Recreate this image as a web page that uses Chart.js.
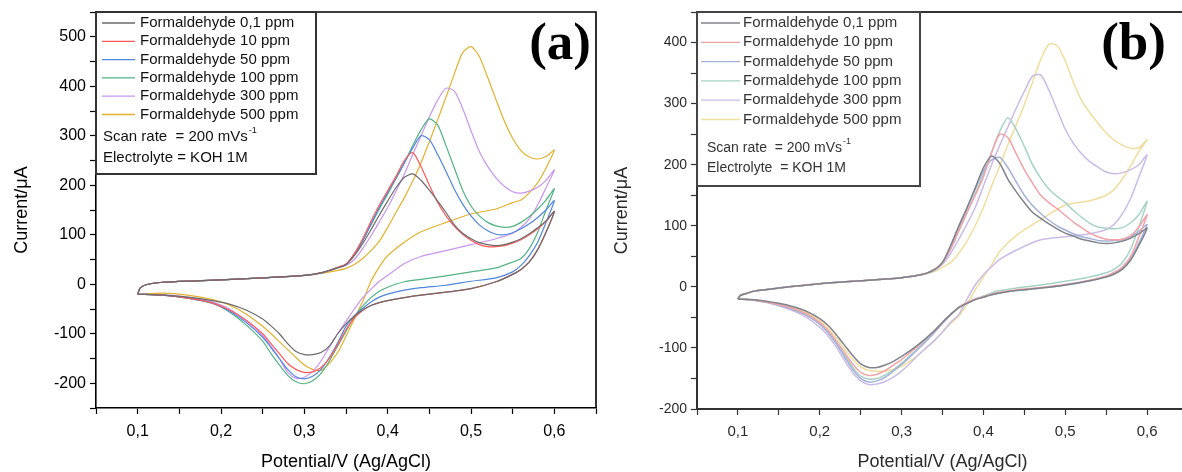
<!DOCTYPE html>
<html>
<head>
<meta charset="utf-8">
<script src="https://cdn.jsdelivr.net/npm/chart.js@4.4.1/dist/chart.umd.min.js"></script>
<style>
  html, body { margin: 0; padding: 0; background: #fff; overflow: hidden; }
  body { width: 1182px; height: 472px; position: relative; }
  .panel { position: absolute; top: 0; }
  #panelA { left: 0; }
  #panelB { left: 600px; }
</style>
</head>
<body>
<div class="panel" id="panelA"><canvas id="chartA" width="600" height="472"></canvas></div>
<div class="panel" id="panelB"><canvas id="chartB" width="600" height="472"></canvas></div>
<script>
const seriesLabels = ['Formaldehyde 0,1 ppm', 'Formaldehyde 10 ppm', 'Formaldehyde 50 ppm',
  'Formaldehyde 100 ppm', 'Formaldehyde 300 ppm', 'Formaldehyde 500 ppm']

const xTickValues = [0.05, 0.1, 0.15, 0.2, 0.25, 0.3, 0.35, 0.4, 0.45, 0.5, 0.55, 0.6, 0.65]
const yTickValuesA = [-250, -200, -150, -100, -50, 0, 50, 100, 150, 200, 250, 300, 350, 400, 450, 500, 550]
const yTickValuesB = [-200, -150, -100, -50, 0, 50, 100, 150, 200, 250, 300, 350, 400, 450]

// ---- panel (a) : anodic (forward) scan ----
const potentialFwdA = [0.1, 0.103, 0.11, 0.13, 0.17, 0.2, 0.25, 0.3, 0.32, 0.34, 0.35,
  0.36, 0.37, 0.38, 0.39, 0.40, 0.41, 0.42, 0.43, 0.44, 0.45, 0.46, 0.47, 0.48, 0.49,
  0.50, 0.51, 0.52, 0.53, 0.54, 0.55, 0.56, 0.57, 0.58, 0.59, 0.60]
const fwdA_01 = [-20, -8, -1, 4, 7, 9, 13, 18, 23, 33, 40,
  58, 82, 110, 140, 168, 195, 216, 223, 210, 190, 168, 145, 120, 103,
  92, 84, 80, 78, 80, 85, 92, 102, 114, 128, 147]
const fwdA_10 = [-20, -8, -1, 4, 7, 9, 13, 18, 23, 34, 41,
  62, 92, 127, 160, 189, 218, 250, 266, 238, 200, 165, 138, 117, 101,
  89, 80, 76, 76, 78, 83, 90, 100, 112, 127, 147]
const fwdA_50 = [-20, -8, -1, 4, 7, 9, 13, 18, 23, 34, 40,
  60, 88, 122, 155, 186, 215, 245, 275, 300, 292, 262, 228, 192, 162,
  138, 120, 108, 101, 100, 104, 112, 122, 135, 150, 169]
const fwdA_100 = [-20, -8, -1, 4, 7, 9, 13, 18, 23, 34, 40,
  60, 88, 120, 152, 182, 213, 245, 280, 312, 334, 322, 280, 235, 190,
  158, 138, 125, 118, 115, 117, 125, 137, 152, 170, 193]
const fwdA_300 = [-20, -8, -1, 4, 7, 9, 13, 18, 23, 33, 38,
  50, 72, 98, 126, 155, 188, 222, 262, 300, 338, 372, 396, 390, 355,
  310, 268, 238, 215, 198, 187, 184, 188, 196, 210, 231]
const fwdA_500 = [-20, -8, -1, 4, 7, 9, 13, 18, 22, 28, 32,
  40, 52, 68, 87, 115, 145, 175, 208, 245, 288, 332, 378, 425, 468,
  480, 460, 418, 373, 330, 295, 270, 257, 253, 258, 271]

// ---- panel (a) : cathodic (reverse) scan ----
const potentialRevA = [0.6, 0.59, 0.58, 0.57, 0.56, 0.55, 0.53, 0.5, 0.47, 0.44, 0.42,
  0.40, 0.39, 0.38, 0.37, 0.36, 0.35, 0.34, 0.33, 0.32, 0.31, 0.30, 0.29, 0.28, 0.27,
  0.26, 0.25, 0.23, 0.21, 0.19, 0.16, 0.13, 0.1]
const revA_01 = [147, 105, 70, 45, 30, 20, 5, -9, -16, -22, -27,
  -33, -37, -43, -52, -64, -80, -100, -125, -138, -142, -142, -136, -120, -100,
  -84, -70, -52, -40, -33, -26, -22, -20]
const revA_10 = [147, 105, 70, 45, 30, 20, 5, -9, -16, -22, -27,
  -33, -37, -43, -53, -68, -92, -122, -150, -168, -177, -178, -172, -160, -140,
  -120, -100, -72, -52, -38, -28, -22, -20]
const revA_50 = [169, 125, 85, 58, 38, 25, 13, 6, -2, -7, -12,
  -20, -26, -36, -49, -64, -85, -118, -148, -172, -186, -191, -187, -172, -150,
  -128, -107, -77, -54, -38, -28, -22, -20]
const revA_100 = [193, 150, 105, 72, 52, 45, 33, 25, 17, 10, 5,
  -6, -14, -27, -44, -66, -95, -125, -155, -180, -195, -201, -197, -184, -163,
  -140, -115, -82, -56, -39, -28, -22, -20]
const revA_300 = [231, 195, 160, 132, 115, 103, 92, 80, 68, 56, 42,
  18, 6, -10, -27, -50, -75, -100, -127, -155, -176, -188, -190, -178, -150,
  -125, -104, -74, -50, -36, -26, -21, -20]
const revA_500 = [271, 235, 205, 185, 170, 165, 152, 142, 125, 106, 85,
  58, 35, 6, -35, -70, -105, -138, -160, -174, -172, -163, -148, -132, -116,
  -100, -85, -60, -42, -31, -22, -18, -20]

// ---- panel (b) : anodic (forward) scan ----
const potentialFwdB = [0.1, 0.103, 0.11, 0.12, 0.15, 0.2, 0.25, 0.3, 0.32, 0.33, 0.34, 0.35,
  0.36, 0.37, 0.38, 0.39, 0.40, 0.41, 0.42, 0.43, 0.44, 0.45, 0.46, 0.47, 0.48, 0.49,
  0.50, 0.51, 0.52, 0.53, 0.54, 0.55, 0.56, 0.57, 0.58, 0.59, 0.60]
const fwdB_01 = [-20, -14, -11, -7, -2, 5, 10, 15, 19, 22, 28, 40,
  68, 100, 130, 162, 195, 214, 202, 176, 156, 138, 122, 112, 103, 95,
  88, 83, 78, 75, 72, 71, 72, 75, 80, 87, 96]
const fwdB_10 = [-20, -14, -11, -7, -2, 5, 10, 15, 19, 22, 28, 40,
  62, 92, 122, 150, 180, 220, 250, 244, 218, 192, 170, 150, 138, 128,
  117, 106, 97, 88, 82, 78, 77, 78, 84, 98, 118]
const fwdB_50 = [-20, -14, -11, -7, -2, 5, 10, 15, 19, 22, 28, 40,
  66, 98, 128, 160, 190, 208, 212, 195, 172, 150, 133, 120, 109, 100,
  93, 87, 82, 79, 76, 75, 76, 78, 83, 91, 102]
const fwdB_100 = [-20, -14, -11, -7, -2, 5, 10, 15, 19, 22, 28, 40,
  62, 92, 122, 152, 185, 220, 255, 277, 258, 230, 200, 178, 160, 148,
  138, 125, 114, 104, 98, 96, 95, 97, 105, 118, 140]
const fwdB_300 = [-20, -14, -11, -7, -2, 5, 10, 15, 19, 22, 27, 37,
  55, 78, 103, 130, 165, 200, 232, 262, 292, 320, 345, 347, 322, 290,
  258, 235, 218, 205, 196, 188, 185, 187, 192, 200, 216]
const fwdB_500 = [-20, -14, -11, -7, -2, 5, 10, 15, 19, 21, 25, 32,
  40, 55, 75, 100, 130, 165, 198, 233, 265, 298, 335, 372, 397, 395,
  370, 335, 305, 285, 268, 252, 240, 232, 227, 228, 241]

// ---- panel (b) : cathodic (reverse) scan ----
const potentialRevB = [0.6, 0.59, 0.58, 0.57, 0.56, 0.55, 0.53, 0.5, 0.47, 0.44, 0.42, 0.41,
  0.40, 0.39, 0.38, 0.37, 0.36, 0.35, 0.34, 0.33, 0.32, 0.31, 0.30, 0.29, 0.28, 0.27,
  0.26, 0.25, 0.24, 0.23, 0.22, 0.21, 0.2, 0.18, 0.15, 0.12, 0.1]
const revB_01 = [96, 68, 44, 29, 21, 16, 10, 3, -2, -6, -10, -13,
  -17, -21, -27, -34, -45, -58, -72, -84, -95, -105, -114, -122, -128, -132,
  -132, -126, -112, -95, -78, -63, -52, -38, -27, -21, -20]
const revB_10 = [118, 82, 50, 33, 24, 18, 11, 4, -1, -5, -9, -12,
  -16, -20, -26, -33, -45, -58, -72, -85, -97, -108, -119, -128, -137, -143,
  -145, -140, -126, -107, -88, -71, -58, -42, -29, -22, -20]
const revB_50 = [102, 72, 46, 30, 22, 17, 10, 3, -2, -6, -10, -13,
  -17, -21, -27, -34, -46, -60, -75, -89, -102, -115, -127, -138, -148, -154,
  -156, -150, -135, -114, -93, -75, -61, -44, -30, -22, -20]
const revB_100 = [140, 98, 62, 40, 29, 23, 16, 9, 3, -2, -6, -10,
  -15, -20, -26, -33, -45, -59, -74, -88, -101, -113, -125, -136, -144, -150,
  -151, -146, -131, -111, -90, -73, -59, -43, -29, -22, -20]
const revB_300 = [216, 180, 145, 120, 103, 94, 87, 82, 77, 60, 45, 33,
  20, 3, -20, -45, -58, -74, -88, -100, -112, -126, -138, -148, -155, -159,
  -160, -154, -140, -120, -98, -80, -66, -47, -31, -22, -20]
const revB_500 = [241, 222, 198, 177, 160, 150, 141, 134, 110, 84, 58, 36,
  16, -5, -28, -48, -60, -74, -88, -100, -112, -122, -130, -135, -138, -138,
  -137, -131, -118, -101, -83, -67, -55, -40, -28, -21, -20]

const colorsA = ['#6b6b6b', '#ff5959', '#4f86e0', '#52b384', '#c995f0', '#e3b12e']
const colorsB = ['#7f838c', '#f2a3a8', '#a4b2d8', '#a6d3c6', '#cbbbe7', '#f1dd9d']

function loopPoints(fwdV, fwdI, revV, revI) {
  const pts = fwdV.map((v, i) => ({ x: v, y: fwdI[i] }))
  for (let i = 1; i < revV.length; i++) pts.push({ x: revV[i], y: revI[i] })
  return pts
}

function commaTick(v) {
  const r = Math.round(v * 10)
  if (Math.abs(v * 10 - r) > 1e-6 || r < 1 || r > 6) return ''
  return (r / 10).toFixed(1).replace('.', ',')
}

const panelDecor = {
  id: 'panelDecor',
  afterDatasetsDraw(chart, args, o) {
    const { ctx, chartArea: a } = chart
    ctx.save()
    // top and right frame
    ctx.strokeStyle = o.frameColor
    ctx.lineWidth = o.frameWidth
    ctx.beginPath()
    ctx.moveTo(a.left, a.top)
    ctx.lineTo(a.right, a.top)
    ctx.lineTo(a.right, a.bottom)
    ctx.stroke()

    // legend box
    const L = o.legend
    ctx.fillStyle = '#fff'
    ctx.fillRect(L.x, L.y, L.w, L.h)
    ctx.strokeStyle = L.borderColor
    ctx.lineWidth = L.borderWidth
    ctx.strokeRect(L.x, L.y, L.w, L.h)
    ctx.font = L.font
    ctx.textBaseline = 'middle'
    ctx.textAlign = 'left'
    chart.data.datasets.forEach((ds, i) => {
      const y = L.rowY + i * L.rowH
      ctx.strokeStyle = ds.borderColor
      ctx.lineWidth = 1.3
      ctx.beginPath()
      ctx.moveTo(L.lineX1, y)
      ctx.lineTo(L.lineX2, y)
      ctx.stroke()
      ctx.fillStyle = L.color
      ctx.fillText(ds.label, L.textX, y)
    })
    // notes
    ctx.fillStyle = L.color
    ctx.font = L.noteFont
    const base = 'Scan rate  = 200 mVs'
    ctx.fillText(base, L.noteX, L.noteY1)
    const w = ctx.measureText(base).width
    ctx.font = L.supFont
    ctx.fillText('-1', L.noteX + w + 1, L.noteY1 - 6)
    ctx.font = L.noteFont
    ctx.fillText(o.electrolyte, L.noteX, L.noteY2)

    // panel tag
    ctx.font = o.tagFont
    ctx.fillStyle = '#000'
    ctx.textAlign = 'right'
    ctx.textBaseline = 'alphabetic'
    ctx.fillText(o.tag, o.tagX, o.tagY)
    ctx.restore()
  }
}

function createCvChart(canvasId, cfg) {
  const ctx = document.getElementById(canvasId)
  const datasets = cfg.series.map((s, i) => ({
    label: seriesLabels[i],
    data: loopPoints(cfg.fwdV, s[0], cfg.revV, s[1]),
    borderColor: cfg.colors[i],
    borderWidth: cfg.lineWidth,
    pointRadius: 0,
    showLine: true,
    fill: false,
    tension: 0.25
  }))

  new Chart(ctx, {
    type: 'scatter',
    data: { datasets: datasets },
    plugins: [panelDecor],
    options: {
      responsive: false,
      animation: false,
      layout: { padding: cfg.padding },
      plugins: {
        legend: { display: false },
        tooltip: { enabled: false },
        panelDecor: cfg.decor
      },
      scales: {
        x: {
          type: 'linear',
          min: 0.05,
          max: 0.65,
          afterBuildTicks: s => { s.ticks = xTickValues.map(v => ({ value: v })) },
          afterFit: s => {
            s.height = cfg.xHeight
            s.paddingLeft = 0
            s.paddingRight = 0
          },
          ticks: {
            callback: v => commaTick(v),
            color: cfg.textColor,
            font: { family: 'Liberation Sans', size: cfg.xTickSize },
            padding: cfg.xTickPad,
            maxRotation: 0,
            autoSkip: false
          },
          grid: { drawOnChartArea: false, drawTicks: true, tickLength: 6, tickColor: cfg.axisColor, tickWidth: 1.2 },
          border: { display: true, color: cfg.axisColor, width: cfg.axisWidth },
          title: {
            display: true,
            text: 'Potential/V (Ag/AgCl)',
            color: cfg.textColor,
            font: { family: 'Liberation Sans', size: cfg.titleSize, lineHeight: 1 },
            padding: { top: 0, bottom: cfg.xTitlePad }
          }
        },
        y: {
          type: 'linear',
          min: cfg.yMin,
          max: cfg.yMax,
          afterBuildTicks: s => { s.ticks = cfg.yTicks.map(v => ({ value: v })) },
          afterFit: s => {
            s.width = cfg.yWidth
            s.paddingTop = 0
            s.paddingBottom = 0
          },
          ticks: {
            callback: v => (v % 100 === 0 && v >= cfg.yLabelMin && v <= cfg.yLabelMax) ? String(v) : '',
            color: cfg.textColor,
            font: { family: 'Liberation Sans', size: cfg.yTickSize },
            padding: 4,
            autoSkip: false
          },
          grid: { drawOnChartArea: false, drawTicks: true, tickLength: 6, tickColor: cfg.axisColor, tickWidth: 1.2 },
          border: { display: true, color: cfg.axisColor, width: cfg.axisWidth },
          title: {
            display: true,
            text: 'Current/μA',
            color: cfg.textColor,
            font: { family: 'Liberation Sans', size: cfg.titleSize, lineHeight: 1 },
            padding: { top: cfg.yTitlePad, bottom: 0 }
          }
        }
      }
    }
  })
}

createCvChart('chartA', {
  fwdV: potentialFwdA,
  revV: potentialRevA,
  series: [[fwdA_01, revA_01], [fwdA_10, revA_10], [fwdA_50, revA_50],
    [fwdA_100, revA_100], [fwdA_300, revA_300], [fwdA_500, revA_500]],
  colors: colorsA,
  lineWidth: 1.2,
  padding: { left: 0, right: 4, top: 12, bottom: 0 },
  xHeight: 64,
  yWidth: 96,
  yMin: -250,
  yMax: 550,
  yTicks: yTickValuesA,
  yLabelMin: -200,
  yLabelMax: 500,
  textColor: '#000',
  axisColor: '#000',
  axisWidth: 1.6,
  xTickSize: 16,
  yTickSize: 16,
  xTickPad: 8,
  titleSize: 18,
  xTitlePad: 1,
  yTitlePad: 13,
  decor: {
    frameColor: '#000',
    frameWidth: 1.6,
    tag: '(a)',
    tagFont: 'bold 53px "Liberation Serif"',
    tagX: 591,
    tagY: 59,
    electrolyte: 'Electrolyte = KOH 1M',
    legend: {
      x: 96, y: 12, w: 220, h: 162,
      borderColor: '#333', borderWidth: 2,
      font: '15px "Liberation Sans"',
      color: '#111',
      rowY: 23, rowH: 18.3,
      lineX1: 102, lineX2: 135, textX: 140,
      noteFont: '15px "Liberation Sans"',
      supFont: '9px "Liberation Sans"',
      noteX: 103, noteY1: 137, noteY2: 158
    }
  }
})

createCvChart('chartB', {
  fwdV: potentialFwdB,
  revV: potentialRevB,
  series: [[fwdB_01, revB_01], [fwdB_10, revB_10], [fwdB_50, revB_50],
    [fwdB_100, revB_100], [fwdB_300, revB_300], [fwdB_500, revB_500]],
  colors: colorsB,
  lineWidth: 1.5,
  padding: { left: 0, right: 12, top: 12, bottom: 0 },
  xHeight: 63,
  yWidth: 97,
  yMin: -200,
  yMax: 450,
  yTicks: yTickValuesB,
  yLabelMin: -200,
  yLabelMax: 400,
  textColor: '#2a2a2a',
  axisColor: '#333',
  axisWidth: 2,
  xTickSize: 15,
  yTickSize: 14,
  xTickPad: 8,
  titleSize: 18,
  xTitlePad: 1,
  yTitlePad: 13,
  decor: {
    frameColor: '#333',
    frameWidth: 2,
    tag: '(b)',
    tagFont: 'bold 53px "Liberation Serif"',
    tagX: 1166 - 600,
    tagY: 59,
    electrolyte: 'Electrolyte  = KOH 1M',
    legend: {
      x: 97, y: 12, w: 223, h: 174,
      borderColor: '#444', borderWidth: 2,
      font: '15px "Liberation Sans"',
      color: '#333',
      rowY: 23, rowH: 19.3,
      lineX1: 101, lineX2: 140, textX: 143,
      noteFont: '14px "Liberation Sans"',
      supFont: '9px "Liberation Sans"',
      noteX: 107, noteY1: 148, noteY2: 168
    }
  }
})
</script>
</body>
</html>
